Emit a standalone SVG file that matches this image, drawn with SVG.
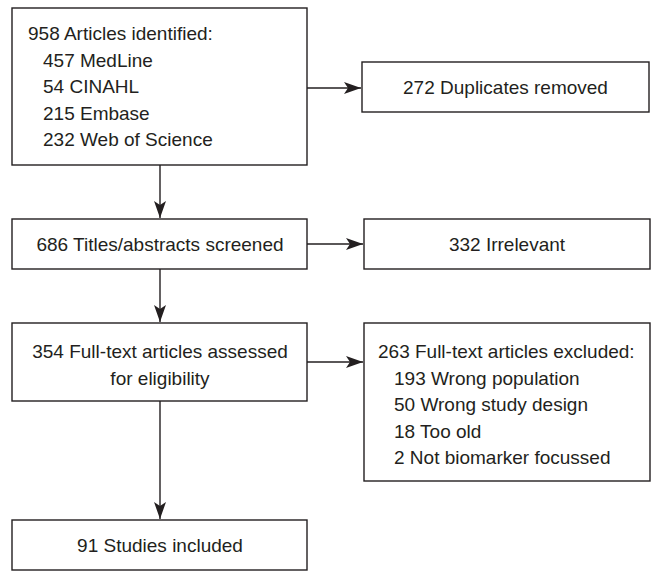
<svg xmlns="http://www.w3.org/2000/svg" width="654" height="571" viewBox="0 0 654 571">
<defs>
<style>
.box{fill:#fff;stroke:#231f20;stroke-width:1.4}
.t{font-family:"Liberation Sans",Arial,Helvetica,sans-serif;font-size:19px;fill:#231f20}
.c{text-anchor:middle}
.ln{stroke:#231f20;stroke-width:1.4;fill:none}
</style>
<marker id="ah" markerUnits="userSpaceOnUse" markerWidth="18" markerHeight="14" viewBox="0 0 18 14" refX="17" refY="7" orient="auto">
<path d="M0,1 L17,7 L0,13 L4,7 Z" fill="#231f20"/>
</marker>
</defs>
<rect width="654" height="571" fill="#fff"/>
<g id="connectors">
<line class="ln" x1="307" y1="88" x2="361" y2="88" marker-end="url(#ah)"/>
<line class="ln" x1="160" y1="165" x2="160" y2="218" marker-end="url(#ah)"/>
<line class="ln" x1="307" y1="244" x2="363" y2="244" marker-end="url(#ah)"/>
<line class="ln" x1="160" y1="269" x2="160" y2="322" marker-end="url(#ah)"/>
<line class="ln" x1="307" y1="362" x2="363" y2="362" marker-end="url(#ah)"/>
<line class="ln" x1="160" y1="401" x2="160" y2="519" marker-end="url(#ah)"/>
</g>
<g id="identified">
<rect class="box" x="12" y="8" width="295" height="157"/>
<text class="t" x="28" y="40">958 Articles identified:</text>
<text class="t" x="43" y="66.5">457 MedLine</text>
<text class="t" x="43" y="93">54 CINAHL</text>
<text class="t" x="43" y="119.5">215 Embase</text>
<text class="t" x="43" y="146">232 Web of Science</text>
</g>
<g id="duplicates">
<rect class="box" x="362" y="62" width="287" height="50"/>
<text class="t c" x="505.5" y="93.5">272 Duplicates removed</text>
</g>
<g id="screened">
<rect class="box" x="12" y="219" width="295" height="50"/>
<text class="t c" x="160" y="251">686 Titles/abstracts screened</text>
</g>
<g id="irrelevant">
<rect class="box" x="364" y="219" width="286" height="50"/>
<text class="t c" x="507" y="251">332 Irrelevant</text>
</g>
<g id="fulltext">
<rect class="box" x="12" y="323" width="295" height="78"/>
<text class="t c" x="160" y="358">354 Full-text articles assessed</text>
<text class="t c" x="160" y="384.5">for eligibility</text>
</g>
<g id="excluded">
<rect class="box" x="364" y="323" width="286" height="158"/>
<text class="t" x="378" y="358">263 Full-text articles excluded:</text>
<text class="t" x="394" y="384.5">193 Wrong population</text>
<text class="t" x="394" y="411">50 Wrong study design</text>
<text class="t" x="394" y="437.5">18 Too old</text>
<text class="t" x="394" y="464">2 Not biomarker focussed</text>
</g>
<g id="included">
<rect class="box" x="12" y="520" width="295" height="50"/>
<text class="t c" x="160" y="552">91 Studies included</text>
</g>
</svg>
